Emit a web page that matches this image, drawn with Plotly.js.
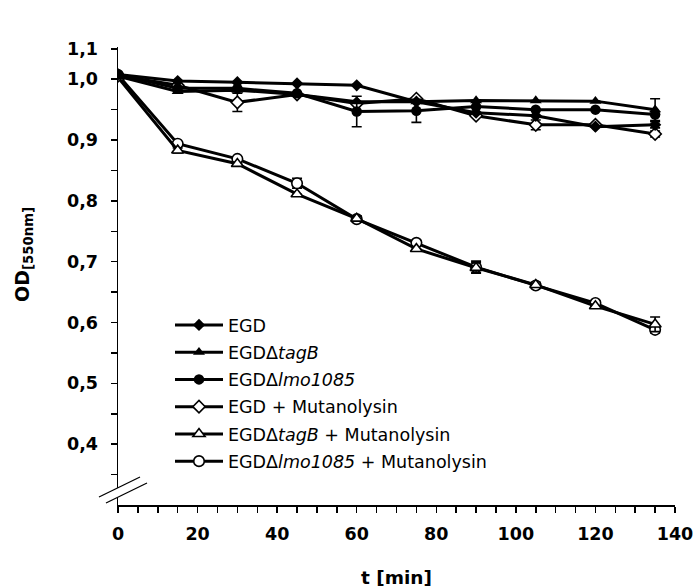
<!DOCTYPE html>
<html>
<head>
<meta charset="utf-8">
<script src="https://cdn.plot.ly/plotly-3.0.1.min.js"></script>
<style>html,body{margin:0;padding:0;background:#fff;}#chart{width:695px;height:588px;}</style>
</head>
<body>
<div id="chart"></div>
<script>
// ---- data ----
var timeMin = [0, 15, 30, 45, 60, 75, 90, 105, 120, 135];

var egd        = [1.008, 0.997, 0.995, 0.993, 0.990, 0.963, 0.945, 0.940, 0.922, 0.925];
var tagB       = [1.005, 0.980, 0.982, 0.975, 0.963, 0.963, 0.965, 0.965, 0.964, 0.950];
var lmo        = [1.008, 0.985, 0.985, 0.977, 0.947, 0.948, 0.955, 0.950, 0.950, 0.942];
var egdMut     = [1.006, 0.990, 0.962, 0.975, 0.960, 0.968, 0.940, 0.925, 0.925, 0.910];
var tagBMut    = [1.003, 0.883, 0.861, 0.811, 0.771, 0.721, 0.690, 0.662, 0.627, 0.597];
var lmoMut     = [1.007, 0.894, 0.869, 0.829, 0.770, 0.731, 0.691, 0.661, 0.632, 0.588];

var egdErr     = [0, 0, 0, 0, 0, 0, 0, 0, 0, 0.005];
var tagBErr    = [0, 0, 0, 0, 0, 0, 0, 0, 0, 0.018];
var lmoErr     = [0, 0, 0, 0, 0.025, 0.019, 0, 0, 0, 0];
var egdMutErr  = [0, 0, 0.015, 0, 0, 0, 0, 0.008, 0, 0.005];
var tagBMutErr = [0, 0.004, 0, 0, 0.004, 0, 0.008, 0, 0, 0.012];
var lmoMutErr  = [0, 0, 0, 0.008, 0.005, 0.004, 0.010, 0.005, 0.004, 0.005];

var seriesNames = [
  'EGD',
  'EGD\u0394<i>tagB</i>',
  'EGD\u0394<i>lmo1085</i>',
  'EGD + Mutanolysin',
  'EGD\u0394<i>tagB</i> + Mutanolysin',
  'EGD\u0394<i>lmo1085</i> + Mutanolysin'
];
var seriesValues = [egd, tagB, lmo, egdMut, tagBMut, lmoMut];
var seriesErrors = [egdErr, tagBErr, lmoErr, egdMutErr, tagBMutErr, lmoMutErr];
var seriesSymbols = ['diamond', 'triangle-up', 'circle', 'diamond-open', 'triangle-up-open', 'circle-open'];

var xTickVals = [0, 20, 40, 60, 80, 100, 120, 140];
var xTickText = ['0', '20', '40', '60', '80', '100', '120', '140'];
var yTickVals = [0.4, 0.5, 0.6, 0.7, 0.8, 0.9, 1.0, 1.05];
var yTickText = ['0,4', '0,5', '0,6', '0,7', '0,8', '0,9', '1,0', '1,1'];

// ---- build traces ----
var sizes = {'diamond': 9.5, 'triangle-up': 10.5, 'circle': 10.5, 'diamond-open': 9.5, 'triangle-up-open': 10.5, 'circle-open': 10.5};
var traces = [];
for (var i = seriesValues.length - 1; i >= 0; i--) {
  var sym = seriesSymbols[i];
  var open = sym.indexOf('open') >= 0;
  traces.push({
    type: 'scatter', mode: 'lines+markers',
    name: seriesNames[i], x: timeMin, y: seriesValues[i],
    legendrank: i + 1, legendgroup: 'g' + i,
    line: {color: '#000', width: 3},
    marker: {symbol: open ? sym.replace('-open', '') : sym, size: sizes[sym],
             color: open ? '#fff' : '#000', line: {color: '#000', width: open ? 1.6 : 0}},
    error_y: {type: 'data', array: seriesErrors[i], visible: true, color: '#000', thickness: 1.6, width: 5}
  });
}

// helper: pixel -> paper for decorative axis-break
var L = 118, R = 675, T = 47, B = 505;
function px(x) { return (x - L) / (R - L); }
function py(y) { return (B - y) / (B - T); }

var layout = {
  width: 695, height: 588,
  margin: {l: L, r: 695 - R, t: T, b: 588 - B},
  paper_bgcolor: '#fff', plot_bgcolor: '#fff',
  showlegend: true,
  legend: {x: px(170), y: py(307), xanchor: 'left', yanchor: 'top',
           font: {family: 'DejaVu Sans', size: 17.5, color: '#000'},
           itemwidth: 48, tracegroupgap: 1.5, traceorder: 'grouped', bgcolor: 'rgba(0,0,0,0)'},
  xaxis: {range: [0, 140], showline: true, linecolor: '#000', linewidth: 1.5,
          showgrid: false, zeroline: false, ticks: 'outside', ticklen: 6, tickwidth: 1.5, tickcolor: '#000',
          tickvals: [0,5,10,15,20,25,30,35,40,45,50,55,60,65,70,75,80,85,90,95,100,105,110,115,120,125,130,135,140],
          ticktext: [], ticklabelstandoff: 6,
          tickfont: {family: 'DejaVu Sans', size: 17.5, weight: 'bold', color: '#000'}},
  yaxis: {range: [0.3, 1.053], showline: true, linecolor: '#000', linewidth: 1.5,
          showgrid: false, zeroline: false, ticks: 'outside', ticklen: 6, tickwidth: 1.5, tickcolor: '#000',
          tickvals: [], ticktext: [], ticklabelstandoff: 9,
          tickfont: {family: 'DejaVu Sans', size: 17.5, weight: 'bold', color: '#000'}},
  annotations: [
    {xref: 'paper', yref: 'paper', x: px(396), y: py(577), xanchor: 'center', yanchor: 'middle',
     text: 't [min]', showarrow: false, font: {family: 'DejaVu Sans', size: 18.5, weight: 'bold', color: '#000'}},
    {xref: 'paper', yref: 'paper', x: px(24), y: py(255), xanchor: 'center', yanchor: 'middle', textangle: -90,
     text: 'OD<sub>[550nm]</sub>', showarrow: false, font: {family: 'DejaVu Sans', size: 19, weight: 'bold', color: '#000'}}
  ],
  shapes: [
    {type: 'path', xref: 'paper', yref: 'paper', layer: 'above', line: {width: 0}, fillcolor: '#fff',
     path: 'M' + px(99) + ',' + py(497) + ' L' + px(140) + ',' + py(477) + ' L' + px(147) + ',' + py(483) + ' L' + px(106) + ',' + py(503) + ' Z'},
    {type: 'line', xref: 'paper', yref: 'paper', layer: 'above', x0: px(99), y0: py(497), x1: px(140), y1: py(477), line: {color: '#000', width: 1.3}},
    {type: 'line', xref: 'paper', yref: 'paper', layer: 'above', x0: px(106), y0: py(503), x1: px(147), y1: py(483), line: {color: '#000', width: 1.3}}
  ]
};

// tick labels (major labelled, minor blank)
var xt = layout.xaxis.tickvals;
for (var k = 0; k < xt.length; k++) {
  var idx = xTickVals.indexOf(xt[k]);
  layout.xaxis.ticktext.push(idx >= 0 ? xTickText[idx] : '');
}
for (var v = 0.35; v <= 1.0501; v += 0.05) {
  var vv = Math.round(v * 100) / 100;
  layout.yaxis.tickvals.push(vv);
  var j = -1;
  for (var m = 0; m < yTickVals.length; m++) if (Math.abs(yTickVals[m] - vv) < 1e-6) j = m;
  layout.yaxis.ticktext.push(j >= 0 ? yTickText[j] : '');
}

Plotly.newPlot('chart', traces, layout, {staticPlot: true, displayModeBar: false});
</script>
</body>
</html>
